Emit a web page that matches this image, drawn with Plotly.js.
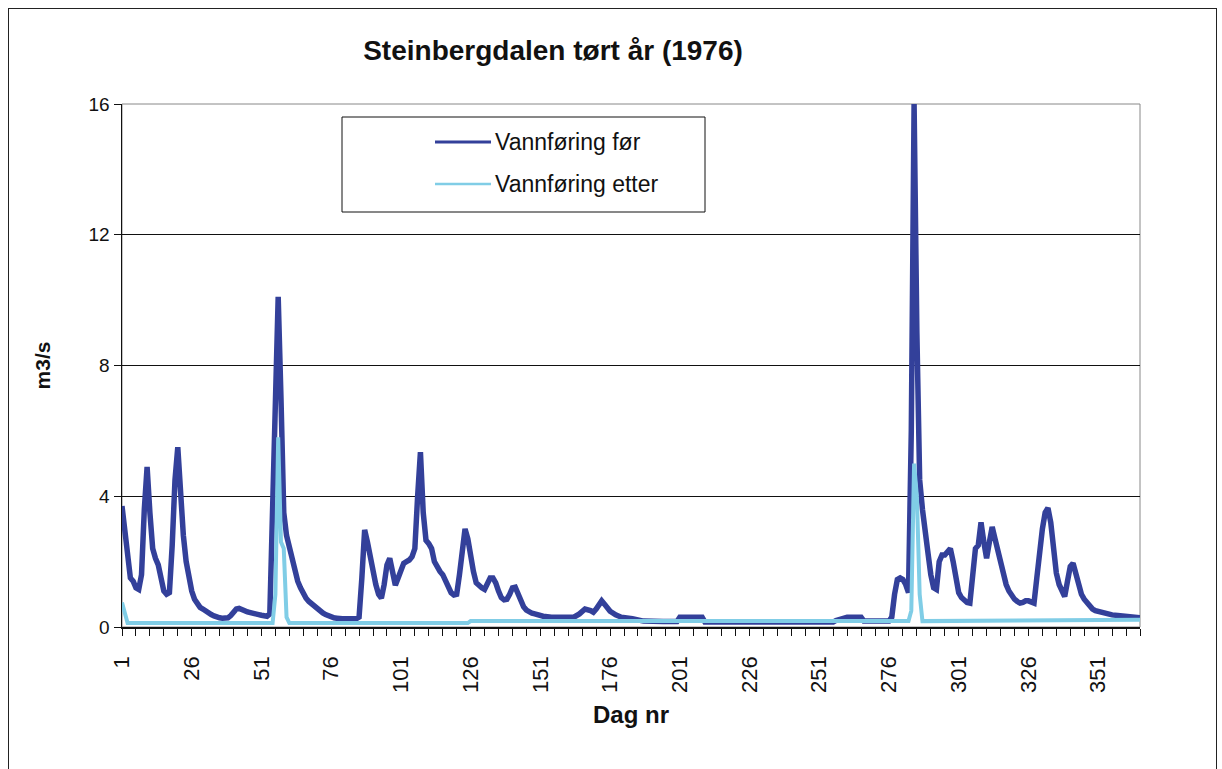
<!DOCTYPE html>
<html>
<head>
<meta charset="utf-8">
<script src="https://cdn.plot.ly/plotly-3.0.1.min.js"></script>
<style>
  html, body { margin: 0; padding: 0; background: #fff; }
  #wrap { position: relative; width: 1222px; height: 769px; overflow: hidden; }
  #chart { position: absolute; left: 0; top: 0; width: 1222px; height: 769px; }
  #frame { position: absolute; left: 8px; top: 8px; width: 1207px; height: 770px; border: 1.5px solid #222; pointer-events: none; }
</style>
</head>
<body>
<div id="wrap">
  <div id="chart"></div>
  <div id="frame"></div>
</div>
<script>
// ---- Data ----
const chartTitle = "Steinbergdalen tørt år (1976)";
const xTitle = "Dag nr";
const yTitle = "m3/s";
const seriesNames = ["Vannføring før", "Vannføring etter"];

const tickDays = [1, 26, 51, 76, 101, 126, 151, 176, 201, 226, 251, 276, 301, 326, 351];
const yTicks = [0, 4, 8, 12, 16];

// Vannføring før (before)
const dagerFor = [
  1,2,3,4,5,6,7,8,9,10,11,12,13,14,15,16,17,18,19,20,
  21,22,23,24,25,26,27,28,29,30,31,32,33,34,35,36,37,38,39,40,
  41,42,43,44,45,46,47,48,49,50,51,52,53,54,55,56,57,58,59,60,
  61,62,63,64,65,66,67,68,69,70,71,72,73,74,75,76,77,78,80,85,
  86,87,88,89,90,91,92,93,94,95,96,97,98,99,100,101,102,103,104,105,
  106,107,108,109,110,111,112,113,114,115,116,117,118,119,120,121,122,123,124,125,
  126,127,128,129,130,131,132,133,134,135,136,137,138,139,140,141,142,143,144,145,
  146,147,148,149,150,152,155,160,163,165,167,169,170,171,172,173,174,175,176,178,
  180,184,188,195,200,201,209,210,256,257,261,266,267,276,277,278,279,280,281,282,283,
  284,285,286,287,288,289,290,291,292,293,294,295,296,297,298,299,300,301,302,303,
  304,305,306,307,308,309,310,311,312,313,314,315,316,317,318,319,320,321,322,323,
  324,325,326,327,328,329,330,331,332,333,334,335,336,337,338,339,340,341,342,343,
  344,345,346,347,348,349,350,352,354,356,358,360,363,366
];
const vannFor = [
  3.7,3.0,2.0,1.5,1.4,1.2,1.15,1.6,3.6,4.9,3.5,2.4,2.1,1.9,1.5,1.1,1.0,1.05,2.5,4.5,
  5.5,4.0,2.8,2.0,1.5,1.1,0.85,0.7,0.6,0.55,0.48,0.42,0.38,0.34,0.3,0.28,0.27,0.26,0.28,0.35,
  0.48,0.55,0.57,0.55,0.5,0.46,0.43,0.42,0.4,0.38,0.36,0.34,0.33,0.4,3.5,8.0,10.1,7.0,3.5,2.8,
  2.4,2.0,1.7,1.4,1.2,1.0,0.88,0.78,0.7,0.62,0.55,0.48,0.43,0.38,0.34,0.3,0.28,0.27,0.25,0.25,
  0.3,1.5,2.97,2.6,2.1,1.7,1.3,1.0,0.88,1.3,1.9,2.1,1.6,1.28,1.5,1.8,1.95,2.0,2.05,2.15,
  2.4,4.0,5.35,3.5,2.65,2.55,2.4,2.0,1.8,1.7,1.6,1.4,1.2,1.05,0.98,1.0,1.6,2.5,3.0,2.7,
  2.15,1.7,1.35,1.25,1.2,1.15,1.35,1.5,1.5,1.35,1.1,0.9,0.83,0.85,1.0,1.2,1.22,1.0,0.8,0.62,
  0.52,0.46,0.42,0.4,0.37,0.33,0.3,0.28,0.3,0.4,0.55,0.5,0.45,0.55,0.72,0.8,0.7,0.58,0.48,0.37,
  0.3,0.25,0.18,0.17,0.17,0.3,0.3,0.15,0.15,0.2,0.3,0.3,0.18,0.18,0.3,1.0,1.45,1.5,1.45,1.3,1.05,
  6.0,16.0,9.0,4.5,3.6,2.8,2.25,1.6,1.2,1.15,2.0,2.2,2.2,2.3,2.4,2.0,1.4,1.05,0.9,0.8,
  0.75,0.73,1.5,2.4,2.5,3.2,2.6,2.1,2.6,3.06,2.7,2.3,1.9,1.6,1.3,1.1,0.95,0.85,0.78,0.73,
  0.75,0.8,0.8,0.75,0.73,1.5,2.45,3.0,3.5,3.64,3.2,2.3,1.65,1.3,1.05,0.93,1.4,1.85,1.95,1.6,
  1.2,1.0,0.85,0.73,0.63,0.55,0.5,0.45,0.4,0.37,0.35,0.33,0.3,0.28
];

// Vannføring etter (after)
const dagerEtter = [1,2,3,55,56,57,58,59,60,61,125,126,188,189,256,257,283,284,285,286,287,288,366];
const vannEtter  = [0.75,0.4,0.12,0.12,1.0,5.8,2.6,2.4,0.3,0.12,0.12,0.18,0.18,0.15,0.15,0.18,0.18,0.5,5.0,4.0,1.0,0.18,0.22];

// ---- Layout constants ----
const W = 1222, H = 769;
const L = 122, R = 82, T = 104, B = 142;
const font = "Liberation Sans, Arial, sans-serif";
const darkBlue = "#33409a", lightBlue = "#80cde6";

// pixel -> paper helpers for the hand-placed legend box
const px2x = p => (p - L) / (W - L - R);
const px2y = p => 1 - (p - T) / (H - T - B);

const traces = [
  { x: dagerFor, y: vannFor, name: seriesNames[0], type: "scatter", mode: "lines",
    line: { color: darkBlue, width: 5.5 } },
  { x: dagerEtter, y: vannEtter, name: seriesNames[1], type: "scatter", mode: "lines",
    line: { color: lightBlue, width: 4 } }
];

const legBox = { x0: 342, x1: 705, y0: 117, y1: 212 };
const legRows = [142, 184];
const legColors = [darkBlue, lightBlue];
const legWidths = [3, 2.5];

const shapes = [
  { type: "rect", xref: "paper", yref: "paper", x0: 0, x1: 1, y0: 0, y1: 1,
    line: { color: "#888", width: 1 }, layer: "below" },
  { type: "rect", xref: "paper", yref: "paper",
    x0: px2x(legBox.x0), x1: px2x(legBox.x1), y0: px2y(legBox.y1), y1: px2y(legBox.y0),
    line: { color: "#111", width: 1 }, fillcolor: "#ffffff", layer: "above" }
];
const annotations = [];
legRows.forEach((ry, i) => {
  shapes.push({ type: "line", xref: "paper", yref: "paper",
    x0: px2x(435), x1: px2x(491), y0: px2y(ry), y1: px2y(ry),
    line: { color: legColors[i], width: legWidths[i] }, layer: "above" });
  annotations.push({ xref: "paper", yref: "paper", x: px2x(493), y: px2y(ry),
    xanchor: "left", yanchor: "middle", showarrow: false, text: seriesNames[i],
    font: { family: font, size: 23, color: "#111" } });
});

const layout = {
  width: W, height: H,
  margin: { l: L, r: R, t: T, b: B, pad: 0 },
  paper_bgcolor: "#ffffff", plot_bgcolor: "#ffffff",
  font: { family: font, color: "#111", size: 18 },
  title: {
    text: "<b>" + chartTitle + "</b>",
    font: { family: font, size: 28, color: "#111" },
    xref: "container", x: 553 / W, xanchor: "center",
    yref: "container", y: 1 - 50 / H, yanchor: "middle"
  },
  showlegend: false,
  xaxis: {
    range: [1, 366], type: "linear",
    tickmode: "array", tickvals: tickDays, ticktext: tickDays.map(String),
    tickangle: -90, ticks: "outside", ticklen: 7, tickcolor: "#111", tickwidth: 1,
    ticklabelstandoff: 12,
    minor: { ticks: "outside", tick0: 1, dtick: 5, ticklen: 7, tickcolor: "#111", tickwidth: 1, showgrid: false },
    showline: true, linecolor: "#111", linewidth: 1.5,
    showgrid: false, zeroline: false,
    tickfont: { family: font, size: 22, color: "#111" },
    title: { text: "<b>" + xTitle + "</b>", font: { family: font, size: 24, color: "#111" }, standoff: 14 }
  },
  yaxis: {
    range: [0, 16], tickmode: "array", tickvals: yTicks,
    ticks: "outside", ticklen: 7, tickcolor: "#111",
    showline: true, linecolor: "#111", linewidth: 1.5,
    showgrid: true, gridcolor: "#111", gridwidth: 1,
    zeroline: false,
    tickfont: { family: font, size: 19, color: "#111" },
    title: { text: "<b>" + yTitle + "</b>", font: { family: font, size: 21, color: "#111" }, standoff: 32 }
  },
  shapes: shapes,
  annotations: annotations
};

Plotly.newPlot("chart", traces, layout, { displayModeBar: false, staticPlot: true });
</script>
</body>
</html>
